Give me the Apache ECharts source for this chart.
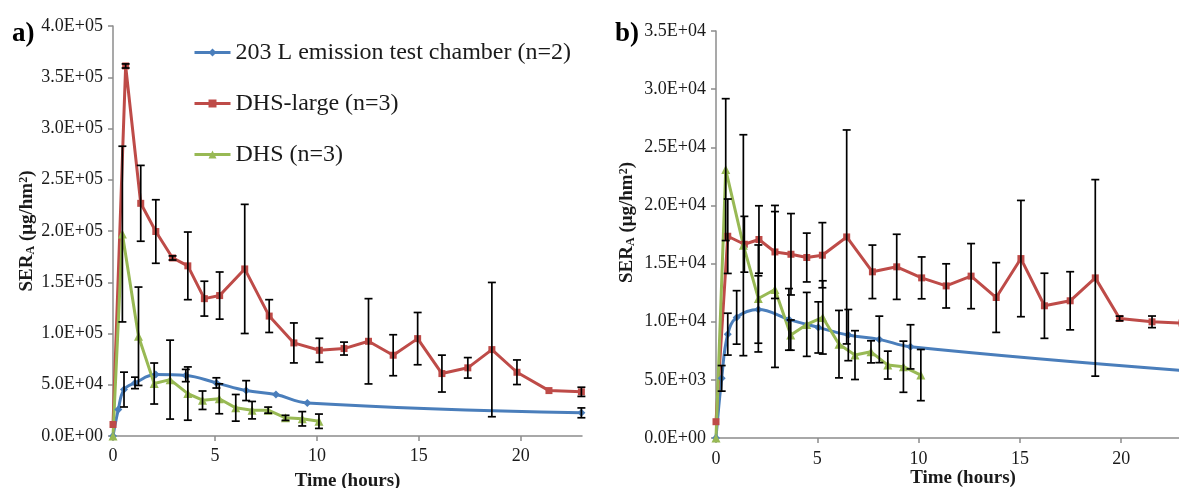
<!DOCTYPE html>
<html>
<head>
<meta charset="utf-8">
<script src="https://cdn.jsdelivr.net/npm/echarts@6/dist/echarts.min.js"></script>
<style>
html,body{margin:0;padding:0;background:#fff;}
#chart{width:1179px;height:488px;}
</style>
</head>
<body>
<div id="chart"></div>
<script>
// ---------- Data ----------
const seriesNames = ['203 L emission test chamber (n=2)', 'DHS-large (n=3)', 'DHS (n=3)'];

// Panel a
const aBlueT = [0, 0.26, 0.54, 1.08, 2.1, 3.57, 5.07, 6.53, 7.99, 9.53, 22.97];
const aBlueV = [0, 25800, 45300, 51800, 59900, 59000, 51800, 44300, 40400, 32300, 22600];
const aBlueE = [0, 0, 17000, 5600, 0, 6000, 5000, 9700, 0, 0, 4800];

const aRedT = [0, 0.62, 1.36, 2.1, 2.92, 3.67, 4.48, 5.23, 6.46, 7.66, 8.87, 10.12, 11.33, 12.53, 13.74, 14.94, 16.13, 17.4, 18.58, 19.81, 21.38, 22.97];
const aRedV = [11200, 361000, 227000, 199500, 173700, 166000, 134000, 137000, 163000, 117000, 90800, 83600, 85300, 92400, 78800, 95000, 60900, 66500, 84300, 62200, 44300, 43100];
const aRedE = [0, 2000, 37000, 31000, 2000, 33000, 17000, 23000, 63000, 16000, 19500, 11700, 6300, 41600, 20000, 25500, 18000, 10000, 65500, 12000, 0, 4500];

const aGreenT = [0, 0.46, 1.25, 2.02, 2.8, 3.67, 4.39, 5.21, 6.02, 6.82, 7.61, 8.46, 9.28, 10.1];
const aGreenV = [0, 197000, 97300, 51200, 55000, 41400, 34900, 36300, 27500, 25200, 25200, 17700, 16800, 14400];
const aGreenE = [0, 85700, 48000, 20000, 38500, 26000, 9000, 14600, 13000, 8500, 3000, 2500, 7000, 7000];

// Panel b
const bBlueT = [0, 0.28, 0.58, 1.02, 2.09, 3.6, 5.05, 6.53, 8.06, 9.6, 23];
const bBlueV = [0, 5130, 8930, 10370, 11050, 10200, 9510, 8850, 8480, 7840, 5800];
const bBlueE = [0, 1100, 1800, 2300, 2900, 2650, 2200, 2200, 2000, 1900, 0];

const bRedT = [0, 0.58, 1.4, 2.12, 2.91, 3.7, 4.48, 5.25, 6.45, 7.72, 8.92, 10.15, 11.36, 12.59, 13.83, 15.05, 16.21, 17.48, 18.72, 19.92, 21.52, 23];
const bRedV = [1400, 17350, 16660, 17070, 16000, 15800, 15520, 15720, 17290, 14290, 14720, 13770, 13080, 13920, 12080, 15430, 11370, 11800, 13770, 10280, 9990, 9880];
const bRedE = [0, 3200, 2400, 2900, 4000, 3500, 2100, 2800, 9200, 2300, 2800, 1800, 1900, 2800, 3000, 5000, 2800, 2500, 8450, 200, 500, 0];

const bGreenT = [0, 0.48, 1.35, 2.09, 2.91, 3.69, 4.48, 5.27, 6.07, 6.86, 7.65, 8.48, 9.25, 10.11];
const bGreenV = [0, 23080, 16580, 12000, 12770, 8850, 9770, 10370, 8070, 7130, 7410, 6270, 6130, 5410];
const bGreenE = [0, 6100, 9500, 4600, 6700, 1300, 2750, 3150, 2900, 2100, 950, 1200, 2200, 2200];

// Axis settings
const xTicks = [0, 5, 10, 15, 20];
const aYMax = 400000, aYStep = 50000;
const bYMax = 35000, bYStep = 5000;

// ---------- Chart ----------
const COLORS = ['#4A7EBB', '#BE4B48', '#98B954'];
const SERIF = 'Liberation Serif, Times New Roman, serif';

function sci(v) {
  if (v === 0) return '0.0E+00';
  let e = Math.floor(Math.log10(v) + 1e-9);
  let m = v / Math.pow(10, e);
  return m.toFixed(1) + 'E+' + (e < 10 ? '0' + e : e);
}

function pts(T, V) { return T.map((t, i) => [t, V[i]]); }
function errPts(T, V, E) { return T.map((t, i) => [t, V[i], E[i]]); }

function errRender(params, api) {
  const x = api.value(0), y = api.value(1), e = api.value(2);
  if (!e) return null;
  const top = api.coord([x, y + e]);
  const bot = api.coord([x, y - e]);
  const w = 4;
  const st = { stroke: '#000', lineWidth: 1.7 };
  return {
    type: 'group',
    children: [
      { type: 'line', shape: { x1: top[0], y1: top[1], x2: bot[0], y2: bot[1] }, style: st },
      { type: 'line', shape: { x1: top[0] - w, y1: top[1], x2: top[0] + w, y2: top[1] }, style: st },
      { type: 'line', shape: { x1: bot[0] - w, y1: bot[1], x2: bot[0] + w, y2: bot[1] }, style: st }
    ]
  };
}

const symbols = ['diamond', 'rect', 'triangle'];
const symSizes = [8, 7, 9];

function lineSeries(idx, gi, T, V) {
  return {
    name: seriesNames[idx], type: 'line', xAxisIndex: gi, yAxisIndex: gi,
    data: pts(T, V), smooth: idx === 0 ? 0.4 : false,
    symbol: symbols[idx], symbolSize: symSizes[idx], showSymbol: true,
    lineStyle: { color: COLORS[idx], width: 3 },
    itemStyle: { color: COLORS[idx] },
    z: 3, animation: false
  };
}
function errSeries(gi, T, V, E) {
  return {
    type: 'custom', xAxisIndex: gi, yAxisIndex: gi,
    data: errPts(T, V, E), renderItem: errRender,
    encode: { x: 0, y: 1 }, z: 4, animation: false, silent: true
  };
}

const axisLineStyle = { color: '#8C8C8C', width: 1.5 };
const tickLabel = { fontFamily: SERIF, fontSize: 18, color: '#1a1a1a' };
const yName = 'SER{sub|A} (μg/hm{sup|2})';
const yNameStyle = {
  fontFamily: SERIF, fontSize: 19, fontWeight: 'bold', color: '#1a1a1a',
  rich: {
    sub: { fontFamily: SERIF, fontSize: 12, fontWeight: 'bold', verticalAlign: 'bottom', color: '#1a1a1a' },
    sup: { fontFamily: SERIF, fontSize: 12, fontWeight: 'bold', verticalAlign: 'top', color: '#1a1a1a' }
  }
};

function xAxisCfg(gi, gap, pad, lm) {
  return {
    gridIndex: gi, type: 'value', min: 0, max: 23, interval: 5,
    name: 'Time (hours)', nameLocation: 'middle', nameGap: gap, nameMoveOverlap: false,
    nameTextStyle: { fontFamily: SERIF, fontSize: 19, fontWeight: 'bold', color: '#1a1a1a', padding: pad },
    axisLine: { show: true, lineStyle: axisLineStyle },
    axisTick: { show: true, inside: false, length: 5, lineStyle: axisLineStyle, customValues: xTicks },
    axisLabel: { ...tickLabel, margin: lm, customValues: xTicks },
    splitLine: { show: false }
  };
}
function yAxisCfg(gi, max, step, gap, pad) {
  return {
    gridIndex: gi, type: 'value', min: 0, max: max, interval: step,
    name: yName, nameLocation: 'middle', nameGap: gap, nameRotate: 90, nameMoveOverlap: false,
    nameTextStyle: { ...yNameStyle, padding: pad },
    axisLine: { show: true, lineStyle: axisLineStyle },
    axisTick: { show: true, inside: false, length: 5, lineStyle: axisLineStyle },
    axisLabel: { ...tickLabel, margin: 10, formatter: sci },
    splitLine: { show: false }
  };
}

const chart = echarts.init(document.getElementById('chart'), null, { renderer: 'canvas' });
chart.setOption({
  animation: false,
  backgroundColor: '#fff',
  grid: [
    { left: 113, top: 26, width: 469, height: 410, containLabel: false, outerBoundsMode: 'none' },
    { left: 716, top: 31, width: 466, height: 407, containLabel: false, outerBoundsMode: 'none' }
  ],
  xAxis: [xAxisCfg(0, 36, [0, 0, 0, 0], 11), xAxisCfg(1, 31, [0, 0, 0, 28], 12)],
  yAxis: [yAxisCfg(0, aYMax, aYStep, 76, [0, 0, 0, 0]), yAxisCfg(1, bYMax, bYStep, 79, [0, 0, 0, 24])],
  legend: {
    data: seriesNames, orient: 'vertical', left: 193, top: 40, padding: 0,
    itemWidth: 36, itemHeight: 10, itemGap: 26,
    lineStyle: { width: 3 },
    textStyle: { fontFamily: SERIF, fontSize: 24, color: '#1a1a1a', lineHeight: 25 },
    selectedMode: false
  },
  graphic: [
    { type: 'text', left: 12, top: 21, style: { text: 'a)', fontFamily: SERIF, fontSize: 27, fontWeight: 'bold', fill: '#000' } },
    { type: 'text', left: 615, top: 21, style: { text: 'b)', fontFamily: SERIF, fontSize: 27, fontWeight: 'bold', fill: '#000' } }
  ],
  series: [
    lineSeries(0, 0, aBlueT, aBlueV),
    lineSeries(1, 0, aRedT, aRedV),
    lineSeries(2, 0, aGreenT, aGreenV),
    errSeries(0, aBlueT, aBlueV, aBlueE),
    errSeries(0, aRedT, aRedV, aRedE),
    errSeries(0, aGreenT, aGreenV, aGreenE),
    lineSeries(0, 1, bBlueT, bBlueV),
    lineSeries(1, 1, bRedT, bRedV),
    lineSeries(2, 1, bGreenT, bGreenV),
    errSeries(1, bBlueT, bBlueV, bBlueE),
    errSeries(1, bRedT, bRedV, bRedE),
    errSeries(1, bGreenT, bGreenV, bGreenE)
  ]
});
</script>
</body>
</html>
